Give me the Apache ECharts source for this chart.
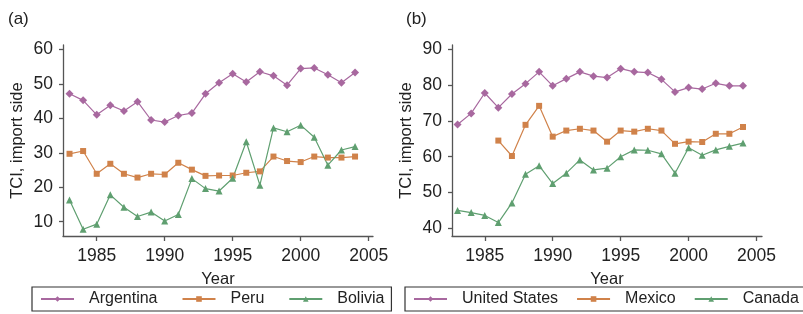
<!DOCTYPE html>
<html>
<head>
<meta charset="utf-8">
<script src="https://cdn.jsdelivr.net/npm/echarts@6.0.0/dist/echarts.min.js"></script>
<style>
  html, body { margin: 0; padding: 0; background: #fff; }
  #chart { width: 803px; height: 314px; }
</style>
</head>
<body>
<div id="chart"></div>
<script>
var years = [1983, 1984, 1985, 1986, 1987, 1988, 1989, 1990, 1991, 1992, 1993,
             1994, 1995, 1996, 1997, 1998, 1999, 2000, 2001, 2002, 2003, 2004];
var xTicks = [1985, 1990, 1995, 2000, 2005];

// panel (a)
var argentina = [47.1, 45.2, 41.0, 43.8, 42.1, 44.8, 39.5, 38.9, 40.8, 41.5, 47.1,
                 50.3, 52.9, 50.5, 53.5, 52.3, 49.6, 54.4, 54.6, 52.6, 50.3, 53.3];
var peru = [29.7, 30.5, 23.9, 26.8, 23.9, 22.8, 23.9, 23.7, 27.1, 25.1, 23.3,
            23.4, 23.4, 24.2, 24.6, 28.9, 27.6, 27.3, 28.9, 28.6, 28.6, 28.9];
var bolivia = [16.3, 7.8, 9.3, 17.8, 14.2, 11.5, 12.8, 10.2, 12.1, 22.5, 19.6,
               18.9, 22.6, 33.2, 20.6, 37.2, 36.1, 38.0, 34.5, 26.4, 30.8, 31.8];
var yTicksA = [10, 20, 30, 40, 50, 60];

// panel (b)
var unitedStates = [69.0, 72.1, 77.8, 73.7, 77.5, 80.4, 83.7, 79.8, 81.8, 83.7, 82.5,
                    82.1, 84.6, 83.7, 83.5, 81.6, 78.1, 79.3, 78.9, 80.5, 79.8, 79.8];
var mexico = [null, null, null, 64.5, 60.2, 68.9, 74.2, 65.6, 67.3, 67.8, 67.3,
              64.2, 67.3, 67.0, 67.8, 67.3, 63.6, 64.2, 64.1, 66.4, 66.4, 68.3];
var canada = [45.0, 44.4, 43.6, 41.6, 47.1, 55.1, 57.5, 52.5, 55.4, 59.1, 56.3,
              56.8, 60.0, 61.9, 61.8, 60.8, 55.4, 62.5, 60.4, 61.9, 62.9, 63.8];
var yTicksB = [40, 50, 60, 70, 80, 90];

var purple = '#a8689f';
var orange = '#d0824a';
var green = '#5f9f70';
var font = 'Liberation Sans, Arial, Helvetica, sans-serif';

function pairs(vals) {
    var out = [];
    for (var i = 0; i < years.length; i++) {
        if (vals[i] != null) out.push([years[i], vals[i]]);
    }
    return out;
}

function plain(v) { return String(v); }

function xAxis(idx, min, max) {
    return {
        gridIndex: idx, type: 'value', min: min, max: max,
        name: 'Year', nameLocation: 'middle', nameGap: 35,
        nameTextStyle: { fontSize: 16.5, color: '#222', fontFamily: font },
        axisLine: { onZero: false, lineStyle: { color: '#555', width: 1.3 } },
        axisTick: { show: true, length: 5, customValues: xTicks, lineStyle: { color: '#555', width: 1.3 } },
        axisLabel: { customValues: xTicks, formatter: plain, fontSize: 17.5, color: '#222', fontFamily: font, margin: 11 },
        splitLine: { show: false }
    };
}

function yAxis(idx, min, max, ticks) {
    return {
        gridIndex: idx, type: 'value', min: min, max: max,
        name: 'TCI, import side', nameLocation: 'middle', nameGap: 37,
        nameTextStyle: { fontSize: 16.5, color: '#222', fontFamily: font },
        axisLine: { show: true, onZero: false, lineStyle: { color: '#555', width: 1.3 } },
        axisTick: { show: true, length: 4, customValues: ticks, lineStyle: { color: '#555', width: 1.3 } },
        axisLabel: { customValues: ticks, formatter: plain, fontSize: 17.5, color: '#222', fontFamily: font, margin: 10 },
        splitLine: { show: false }
    };
}

function line(name, idx, vals, color, symbol, size) {
    return {
        name: name, type: 'line', xAxisIndex: idx, yAxisIndex: idx,
        data: pairs(vals), symbol: symbol, symbolSize: size, showSymbol: true,
        lineStyle: { color: color, width: 1.2 },
        itemStyle: { color: color },
        emphasis: { disabled: true },
        animation: false
    };
}

function legend(left, width, gap, padRight, names) {
    return {
        data: names, left: left, top: 287, width: width,
        orient: 'horizontal',
        itemWidth: 33, itemHeight: 7, itemGap: gap,
        padding: [4, padRight, 4, 8],
        borderColor: '#333', borderWidth: 1.2, borderRadius: 0,
        textStyle: { fontSize: 16, color: '#222', fontFamily: font, padding: [0, 0, 0, 10] }
    };
}

var chart = echarts.init(document.getElementById('chart'), null, { renderer: 'canvas' });
chart.setOption({
    backgroundColor: '#fff',
    animation: false,
    title: [
        { text: '(a)', left: 3, top: 6, textStyle: { fontSize: 17, fontWeight: 'normal', color: '#222', fontFamily: font } },
        { text: '(b)', left: 401, top: 6, textStyle: { fontSize: 17, fontWeight: 'normal', color: '#222', fontFamily: font } }
    ],
    grid: [
        { left: 63, top: 45, width: 310, height: 191 },
        { left: 452, top: 45, width: 310, height: 191 }
    ],
    xAxis: [xAxis(0, 1982.52, 2005.32), xAxis(1, 1982.59, 2005.4)],
    yAxis: [yAxis(0, 5.86, 61.25, yTicksA), yAxis(1, 37.85, 91.2, yTicksB)],
    legend: [
        legend(32, 360, 24, 7, ['Argentina', 'Peru', 'Bolivia']),
        legend(405, 420, 18, 14, ['United States', 'Mexico', 'Canada'])
    ],
    series: [
        line('Argentina', 0, argentina, purple, 'diamond', 8),
        line('Peru', 0, peru, orange, 'rect', 6),
        line('Bolivia', 0, bolivia, green, 'triangle', 7),
        line('United States', 1, unitedStates, purple, 'diamond', 8),
        line('Mexico', 1, mexico, orange, 'rect', 6),
        line('Canada', 1, canada, green, 'triangle', 7)
    ]
});
</script>
</body>
</html>
